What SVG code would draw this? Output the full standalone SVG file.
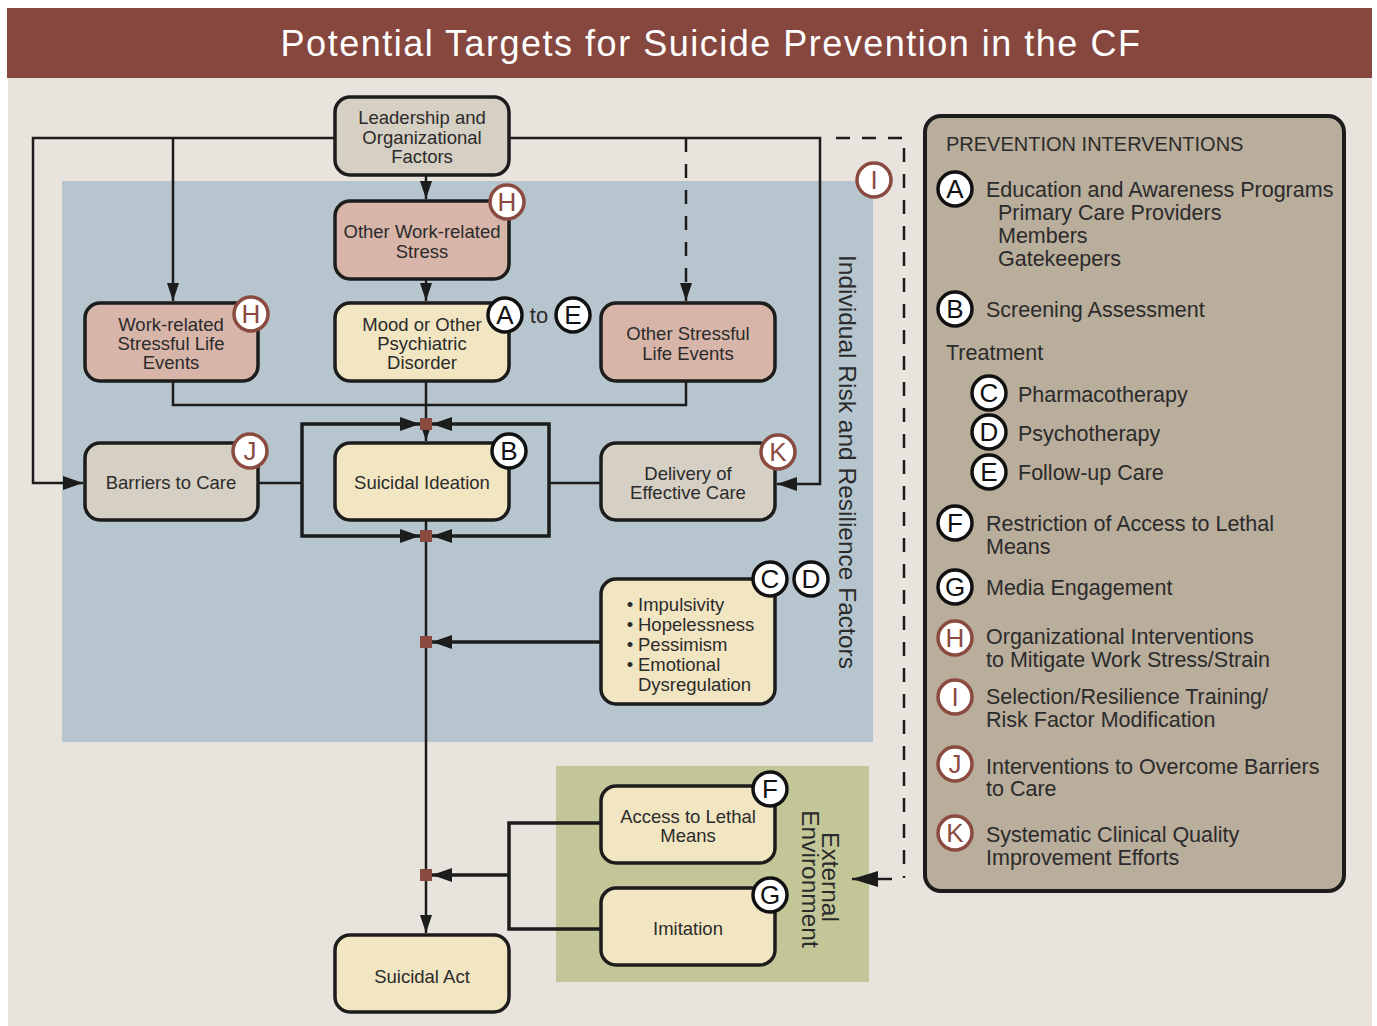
<svg xmlns="http://www.w3.org/2000/svg" width="1377" height="1026" viewBox="0 0 1377 1026">
<defs>
<style>
.t{font-family:"Liberation Sans",Arial,sans-serif;fill:#2b2b2b}
.n{font-size:18.5px;text-anchor:middle}
.lg{font-size:21.5px}
.box{stroke:#1c1c1c;stroke-width:3.5}
.grey{fill:#d6cfc3}
.pink{fill:#d7b5a9}
.cream{fill:#f2e5c2}
.ln{fill:none;stroke:#1c1c1c;stroke-width:2.5}
.br{fill:none;stroke:#1c1c1c;stroke-width:3.5}
.dash{fill:none;stroke:#1c1c1c;stroke-width:2.5;stroke-dasharray:14 12}
.bk circle{fill:#fff;stroke:#111;stroke-width:3.5}
.bk text{font-family:"Liberation Sans",Arial,sans-serif;font-size:26px;text-anchor:middle;fill:#111}
.rd circle{fill:#fff;stroke:#8a4a40;stroke-width:3.5}
.rd text{font-family:"Liberation Sans",Arial,sans-serif;font-size:26px;text-anchor:middle;fill:#8a4a40}
.sq{fill:#8a4a40}
</style>
<marker id="ah" viewBox="0 0 20 14" refX="20" refY="7" markerWidth="20" markerHeight="14" markerUnits="userSpaceOnUse" orient="auto"><path d="M0,0 L20,7 L0,14 z" fill="#1c1c1c"/></marker>
<marker id="ahs" viewBox="0 0 18 12" refX="18" refY="6" markerWidth="18" markerHeight="12" markerUnits="userSpaceOnUse" orient="auto"><path d="M0,0 L18,6 L0,12 z" fill="#1c1c1c"/></marker>
<marker id="ahb" viewBox="0 0 26 16" refX="26" refY="8" markerWidth="26" markerHeight="16" markerUnits="userSpaceOnUse" orient="auto"><path d="M0,0 L26,8 L0,16 z" fill="#1c1c1c"/></marker>
</defs>

<rect x="0" y="0" width="1377" height="1026" fill="#ffffff"/>
<rect x="8" y="78" width="1364" height="948" fill="#e8e3dd"/>
<g id="title">
<rect x="7" y="8" width="1365" height="70" fill="#86473f"/>
<text x="711" y="56" font-family="Liberation Sans, Arial, sans-serif" font-size="36" fill="#ffffff" text-anchor="middle" letter-spacing="1.5">Potential Targets for Suicide Prevention in the CF</text>
</g>

<g id="region-individual">
<rect x="62" y="181" width="811" height="561" fill="#b7c6ce"/>
<text class="t" transform="translate(839,255) rotate(90)" font-size="24.5">Individual Risk and Resilience Factors</text>
</g>
<g id="region-external">
<rect x="556" y="766" width="313" height="216" fill="#c3c798"/>
<text class="t" transform="translate(822,877) rotate(90)" font-size="24.5" text-anchor="middle">External</text>
<text class="t" transform="translate(802,879) rotate(90)" font-size="24.5" text-anchor="middle">Environment</text>
</g>

<g id="connectors">
<path class="ln" d="M335,138 H33 V483 H83" marker-end="url(#ah)"/>
<path class="ln" d="M173,138 V301" marker-end="url(#ahs)"/>
<path class="ln" d="M509,138 H820 V484 H777" marker-end="url(#ah)"/>
<path class="dash" d="M686,138 V301" marker-end="url(#ahs)"/>
<path class="dash" d="M836,138 H904 V878"/>
<path class="ln" d="M892,879 H852" marker-end="url(#ahb)"/>
<path class="ln" d="M426,175 V199" marker-end="url(#ahs)"/>
<path class="ln" d="M426,279 V301" marker-end="url(#ahs)"/>
<path class="ln" d="M173,381 V405 H686 V381"/>
<path class="ln" d="M426,381 V441" marker-end="url(#ahs)"/>
<path class="ln" d="M259,483 H302"/>
<path class="ln" d="M549,483 H601"/>
<path class="br" d="M302,483 V424 H420" marker-end="url(#ah)"/>
<path class="br" d="M302,483 V536 H420" marker-end="url(#ah)"/>
<path class="br" d="M549,483 V424 H432" marker-end="url(#ah)"/>
<path class="br" d="M549,483 V536 H432" marker-end="url(#ah)"/>
<path class="ln" d="M426,520 V933" marker-end="url(#ahs)"/>
<path class="br" d="M601,642 H432" marker-end="url(#ah)"/>
<path class="br" d="M601,823 H509 V929 H601"/>
<path class="br" d="M509,875 H432" marker-end="url(#ah)"/>
<rect class="sq" x="420" y="418" width="12" height="12"/>
<rect class="sq" x="420" y="530" width="12" height="12"/>
<rect class="sq" x="420" y="636" width="12" height="12"/>
<rect class="sq" x="420" y="869" width="12" height="12"/>
</g>

<g id="leadership">
<rect class="box grey" x="335" y="97" width="174" height="78" rx="15"/>
<text class="t n" x="422" y="124">Leadership and</text>
<text class="t n" x="422" y="144">Organizational</text>
<text class="t n" x="422" y="163">Factors</text>
</g>
<g id="other-work-stress">
<rect class="box pink" x="335" y="201" width="174" height="78" rx="15"/>
<text class="t n" x="422" y="238">Other Work-related</text>
<text class="t n" x="422" y="258">Stress</text>
<g class="rd"><circle cx="507" cy="202" r="17"/><text x="507" y="211">H</text></g>
</g>
<g id="work-stressful-events">
<rect class="box pink" x="85" y="303" width="173" height="78" rx="15"/>
<text class="t n" x="171" y="331">Work-related</text>
<text class="t n" x="171" y="350">Stressful Life</text>
<text class="t n" x="171" y="369">Events</text>
<g class="rd"><circle cx="251" cy="314" r="17"/><text x="251" y="323">H</text></g>
</g>
<g id="mood-disorder">
<rect class="box cream" x="335" y="303" width="174" height="78" rx="15"/>
<text class="t n" x="422" y="331">Mood or Other</text>
<text class="t n" x="422" y="350">Psychiatric</text>
<text class="t n" x="422" y="369">Disorder</text>
<g class="bk"><circle cx="505" cy="315" r="17"/><text x="505" y="324">A</text></g>
<text class="t" x="539" y="323" font-size="22" text-anchor="middle">to</text>
<g class="bk"><circle cx="573" cy="315" r="17"/><text x="573" y="324">E</text></g>
</g>
<g id="other-stressful-events">
<rect class="box pink" x="601" y="303" width="174" height="78" rx="15"/>
<text class="t n" x="688" y="340">Other Stressful</text>
<text class="t n" x="688" y="360">Life Events</text>
</g>
<g id="badge-i">
<g class="rd"><circle cx="874" cy="180" r="17"/><text x="874" y="189">I</text></g>
</g>
<g id="barriers">
<rect class="box grey" x="85" y="443" width="173" height="77" rx="15"/>
<text class="t n" x="171" y="489">Barriers to Care</text>
<g class="rd"><circle cx="250" cy="451" r="17"/><text x="250" y="460">J</text></g>
</g>
<g id="suicidal-ideation">
<rect class="box cream" x="335" y="443" width="174" height="77" rx="15"/>
<text class="t n" x="422" y="489">Suicidal Ideation</text>
<g class="bk"><circle cx="509" cy="451" r="17"/><text x="509" y="460">B</text></g>
</g>
<g id="delivery-care">
<rect class="box grey" x="601" y="443" width="174" height="77" rx="15"/>
<text class="t n" x="688" y="480">Delivery of</text>
<text class="t n" x="688" y="499">Effective Care</text>
<g class="rd"><circle cx="778" cy="452" r="17"/><text x="778" y="461">K</text></g>
</g>
<g id="traits">
<rect class="box cream" x="601" y="579" width="174" height="125" rx="15"/>
<g class="t" font-size="18.5">
<text x="630" y="611" text-anchor="middle">•</text><text x="638" y="611">Impulsivity</text>
<text x="630" y="631" text-anchor="middle">•</text><text x="638" y="631">Hopelessness</text>
<text x="630" y="651" text-anchor="middle">•</text><text x="638" y="651">Pessimism</text>
<text x="630" y="671" text-anchor="middle">•</text><text x="638" y="671">Emotional</text>
<text x="638" y="691">Dysregulation</text>
</g>
<g class="bk"><circle cx="770" cy="579" r="17"/><text x="770" y="588">C</text></g>
<g class="bk"><circle cx="811" cy="579" r="17"/><text x="811" y="588">D</text></g>
</g>
<g id="lethal-means">
<rect class="box cream" x="601" y="786" width="174" height="77" rx="15"/>
<text class="t n" x="688" y="823">Access to Lethal</text>
<text class="t n" x="688" y="842">Means</text>
<g class="bk"><circle cx="770" cy="789" r="17"/><text x="770" y="798">F</text></g>
</g>
<g id="imitation">
<rect class="box cream" x="601" y="888" width="174" height="77" rx="15"/>
<text class="t n" x="688" y="935">Imitation</text>
<g class="bk"><circle cx="770" cy="895" r="17"/><text x="770" y="904">G</text></g>
</g>
<g id="suicidal-act">
<rect class="box cream" x="335" y="935" width="174" height="77" rx="15"/>
<text class="t n" x="422" y="983">Suicidal Act</text>
</g>

<g id="legend">
<rect x="925" y="116" width="419" height="775" rx="16" fill="#b9ad9b" stroke="#1c1c1c" stroke-width="4"/>
<text class="t" x="946" y="151" font-size="20">PREVENTION INTERVENTIONS</text>
<g class="bk"><circle cx="955" cy="189" r="17"/><text x="955" y="198">A</text></g>
<text class="t lg" x="986" y="197">Education and Awareness Programs</text>
<text class="t lg" x="998" y="220">Primary Care Providers</text>
<text class="t lg" x="998" y="243">Members</text>
<text class="t lg" x="998" y="266">Gatekeepers</text>
<g class="bk"><circle cx="955" cy="309" r="17"/><text x="955" y="318">B</text></g>
<text class="t lg" x="986" y="317">Screening Assessment</text>
<text class="t lg" x="946" y="360">Treatment</text>
<g class="bk"><circle cx="989" cy="393" r="17"/><text x="989" y="402">C</text></g>
<text class="t lg" x="1018" y="402">Pharmacotherapy</text>
<g class="bk"><circle cx="989" cy="432" r="17"/><text x="989" y="441">D</text></g>
<text class="t lg" x="1018" y="441">Psychotherapy</text>
<g class="bk"><circle cx="989" cy="472" r="17"/><text x="989" y="481">E</text></g>
<text class="t lg" x="1018" y="480">Follow-up Care</text>
<g class="bk"><circle cx="955" cy="523" r="17"/><text x="955" y="532">F</text></g>
<text class="t lg" x="986" y="531">Restriction of Access to Lethal</text>
<text class="t lg" x="986" y="554">Means</text>
<g class="bk"><circle cx="955" cy="587" r="17"/><text x="955" y="596">G</text></g>
<text class="t lg" x="986" y="595">Media Engagement</text>
<g class="rd"><circle cx="955" cy="638" r="17"/><text x="955" y="647">H</text></g>
<text class="t lg" x="986" y="644">Organizational Interventions</text>
<text class="t lg" x="986" y="667">to Mitigate Work Stress/Strain</text>
<g class="rd"><circle cx="955" cy="697" r="17"/><text x="955" y="706">I</text></g>
<text class="t lg" x="986" y="704">Selection/Resilience Training/</text>
<text class="t lg" x="986" y="727">Risk Factor Modification</text>
<g class="rd"><circle cx="955" cy="764" r="17"/><text x="955" y="773">J</text></g>
<text class="t lg" x="986" y="774">Interventions to Overcome Barriers</text>
<text class="t lg" x="986" y="796">to Care</text>
<g class="rd"><circle cx="955" cy="833" r="17"/><text x="955" y="842">K</text></g>
<text class="t lg" x="986" y="842">Systematic Clinical Quality</text>
<text class="t lg" x="986" y="865">Improvement Efforts</text>
</g>
</svg>
